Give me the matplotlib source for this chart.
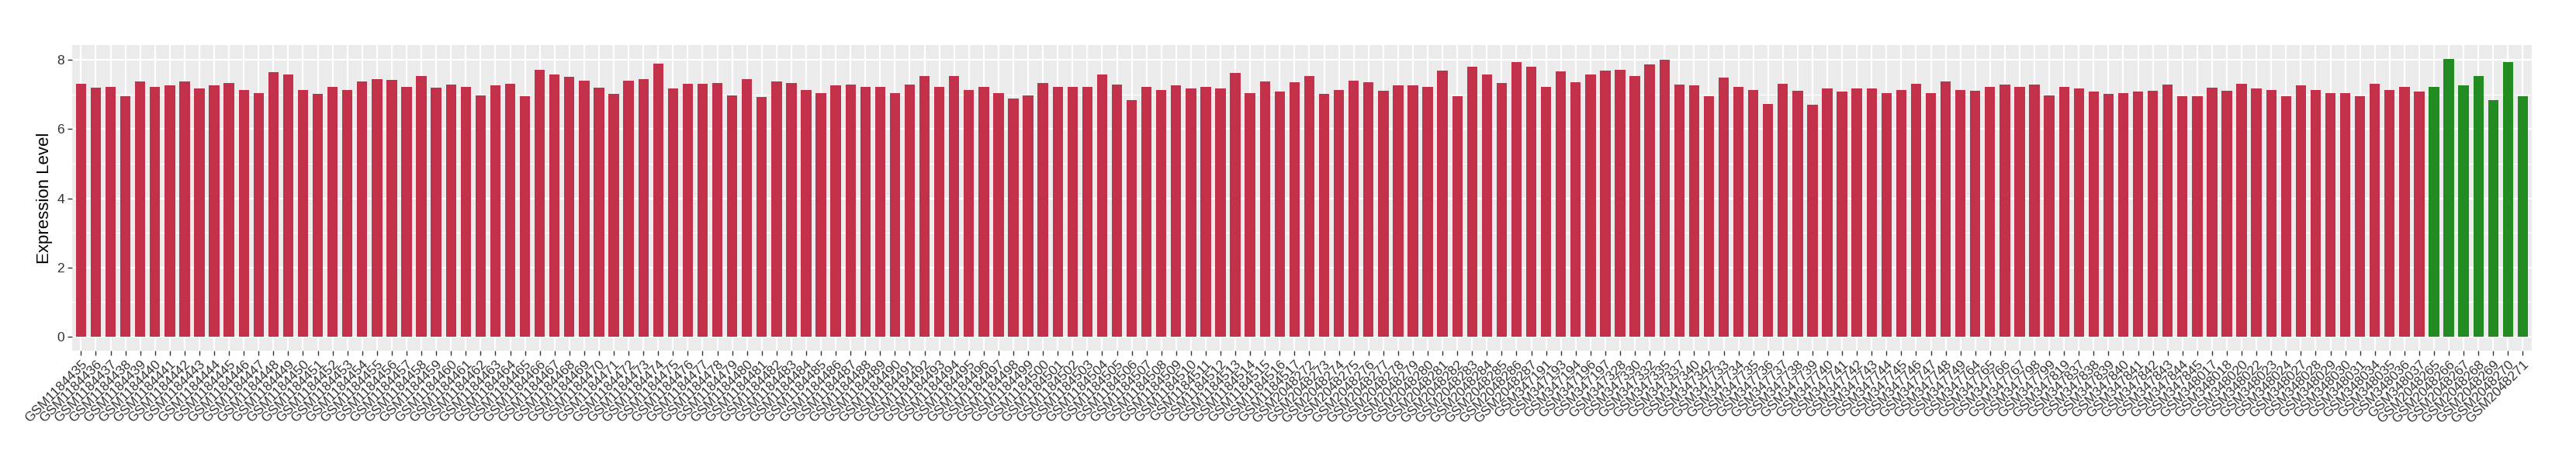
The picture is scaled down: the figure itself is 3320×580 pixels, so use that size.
import numpy as np
import matplotlib
matplotlib.use("Agg")
import matplotlib.pyplot as plt
from matplotlib.ticker import MultipleLocator

plt.rcParams['font.family'] = ['Liberation Sans', 'DejaVu Sans']

# --- data ---
ids_1184 = [f"GSM{n}" for n in range(1184435, 1184518)]
ids_2048a = [f"GSM{n}" for n in range(2048272, 2048288)]
ids_347 = ["GSM347191", "GSM347193", "GSM347194", "GSM347196", "GSM347197",
           "GSM347328", "GSM347330", "GSM347332", "GSM347335", "GSM347337",
           "GSM347340", "GSM347342"] + \
          [f"GSM{n}" for n in range(347733, 347750)] + \
          ["GSM347764", "GSM347765", "GSM347766", "GSM347767", "GSM347798",
           "GSM347799", "GSM347819"] + \
          [f"GSM{n}" for n in range(347837, 347846)]
ids_348 = ["GSM348017", "GSM348018", "GSM348020", "GSM348022", "GSM348023",
           "GSM348024", "GSM348027", "GSM348028", "GSM348029", "GSM348030",
           "GSM348031", "GSM348034", "GSM348035", "GSM348036", "GSM348037"]
ids_normal = [f"GSM{n}" for n in range(2048265, 2048272)]

tumor_vals = [
    7.30, 7.19, 7.21, 6.94, 7.37, 7.21, 7.26, 7.37, 7.17, 7.26,
    7.33, 7.14, 7.05, 7.64, 7.58, 7.12, 7.01, 7.23, 7.12, 7.37,
    7.44, 7.42, 7.23, 7.53, 7.19, 7.28, 7.21, 6.98, 7.26, 7.30,
    6.94, 7.71, 7.58, 7.51, 7.39, 7.19, 7.01, 7.39, 7.44, 7.89,
    7.17, 7.30, 7.30, 7.33, 6.98, 7.44, 6.92, 7.37, 7.33, 7.14,
    7.03, 7.26, 7.28, 7.21, 7.21, 7.05, 7.28, 7.53, 7.23, 7.53,
    7.14, 7.23, 7.05, 6.89, 6.98, 7.33, 7.21, 7.21, 7.23, 7.58,
    7.28, 6.83, 7.21, 7.12, 7.26, 7.17, 7.23, 7.17, 7.62, 7.03,
    7.37, 7.08, 7.35, 7.53, 7.01, 7.14, 7.39, 7.35, 7.10, 7.26,
    7.26, 7.21, 7.69, 6.96, 7.80, 7.58, 7.33, 7.94, 7.80, 7.23,
    7.67, 7.35, 7.58, 7.69, 7.71, 7.53, 7.87, 8.01, 7.28, 7.26,
    6.96, 7.48, 7.23, 7.14, 6.73, 7.30, 7.10, 6.71, 7.17, 7.08,
    7.17, 7.17, 7.05, 7.14, 7.30, 7.03, 7.37, 7.12, 7.10, 7.23,
    7.28, 7.23, 7.28, 6.98, 7.21, 7.17, 7.08, 7.01, 7.03, 7.08,
    7.10, 7.28, 6.94, 6.96, 7.19, 7.10, 7.30, 7.17, 7.12, 6.94,
    7.26, 7.14, 7.05, 7.03, 6.94, 7.30, 7.14, 7.21, 7.08,
]
normal_vals = [7.21, 8.03, 7.26, 7.53, 6.83, 7.94, 6.94]

labels = ids_1184 + ids_2048a + ids_347 + ids_348 + ids_normal
values = tumor_vals + normal_vals
colors = ["#C2304A"] * len(tumor_vals) + ["#228B22"] * len(normal_vals)

# --- plot ---
fig = plt.figure(figsize=(33.2, 5.8), dpi=100)
ax = fig.add_axes([0.028, 0.221, 0.9548, 0.679])

x = np.arange(len(values))
ax.bar(x, values, width=0.7, color=colors, zorder=3)

ax.set_facecolor("#EBEBEB")
for s in ax.spines.values():
    s.set_visible(False)

ax.set_xlim(-0.6, len(values) - 1 + 0.6)
ax.set_ylim(-0.40, 8.43)
ax.yaxis.set_major_locator(MultipleLocator(2))
ax.yaxis.set_minor_locator(MultipleLocator(1))
ax.grid(which="major", color="white", linewidth=1.6, zorder=0)
ax.grid(which="minor", axis="y", color="white", linewidth=0.8, zorder=0)
ax.set_axisbelow(True)

ax.set_xticks(x)
ax.set_xticklabels(labels, rotation=45, ha="right", va="top",
                   rotation_mode="anchor", fontsize=12.5, color="#333333")
ax.tick_params(axis="both", which="major", length=4, width=1, color="#333333",
               labelcolor="#333333", pad=3)
ax.tick_params(axis="y", labelsize=12.5)
ax.tick_params(axis="y", which="minor", length=0)

ax.set_ylabel("Expression Level", fontsize=16, color="black", labelpad=4)

fig.savefig("out.png", dpi=100)
